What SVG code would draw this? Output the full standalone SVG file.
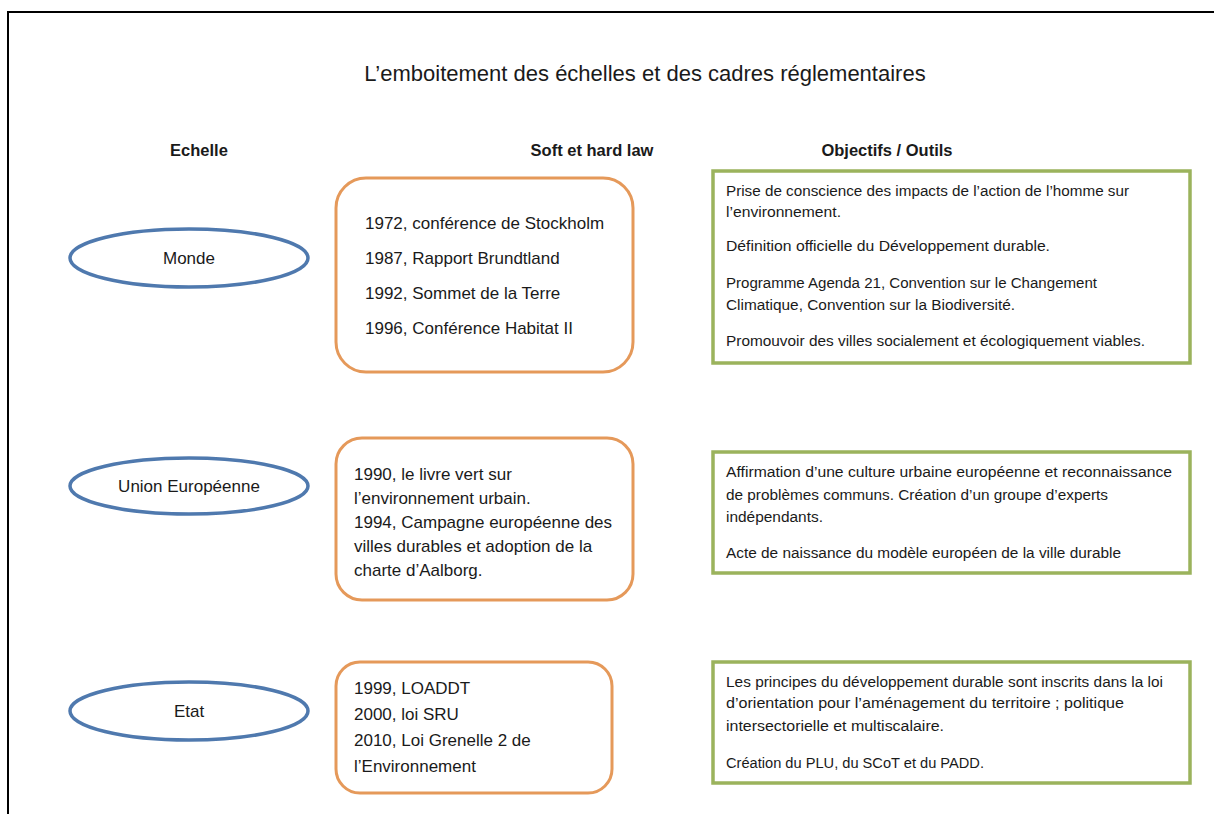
<svg xmlns="http://www.w3.org/2000/svg" width="1214" height="814" viewBox="0 0 1214 814">
<style>
.t{font-family:"Liberation Sans",Arial,sans-serif;fill:#1a1a1a}
.title{font-size:22px}
.hdr{font-size:16.5px;font-weight:bold}
.ell{fill:#fff;stroke:#4f79ae;stroke-width:3.5}
.ob{fill:#fff;stroke:#e5995a;stroke-width:3}
.gb{fill:#fff;stroke:#9bb35c;stroke-width:3.5}
.lbl{font-size:17px}
.law{font-size:17px}
.obj{font-size:14px}
</style>
<rect x="0" y="0" width="1214" height="814" fill="#fff"/>
<path d="M8,814 V12 H1214" fill="none" stroke="#000" stroke-width="2"/>
<text class="t title" x="645" y="81" text-anchor="middle">L’emboitement des échelles et des cadres réglementaires</text>
<g id="headers">
<text class="t hdr" x="199" y="156" text-anchor="middle">Echelle</text>
<text class="t hdr" x="592" y="156" text-anchor="middle">Soft et hard law</text>
<text class="t hdr" x="887" y="156" text-anchor="middle">Objectifs / Outils</text>
</g>
<g id="connectors"></g>
<g id="monde">
<ellipse class="ell" cx="189" cy="258" rx="119" ry="29"/>
<text class="t lbl" x="189" y="264" text-anchor="middle">Monde</text>
</g>
<g id="ue">
<ellipse class="ell" cx="189" cy="486" rx="119" ry="28"/>
<text class="t lbl" x="189" y="492" text-anchor="middle">Union Européenne</text>
</g>
<g id="etat">
<ellipse class="ell" cx="189" cy="711" rx="119" ry="29"/>
<text class="t lbl" x="189" y="717" text-anchor="middle">Etat</text>
</g>
<g id="law-monde">
<rect class="ob" x="336" y="178" width="297" height="194" rx="30"/>
<text class="t law" x="365" y="229">1972,  conférence de Stockholm</text>
<text class="t law" x="365" y="264">1987,  Rapport Brundtland</text>
<text class="t law" x="365" y="299">1992,  Sommet de la Terre</text>
<text class="t law" x="365" y="334">1996,  Conférence Habitat II</text>
</g>
<g id="law-ue">
<rect class="ob" x="336" y="438" width="297" height="162" rx="26"/>
<text class="t law" x="354" y="480">1990,  le livre vert sur</text>
<text class="t law" x="354" y="504">l’environnement urbain.</text>
<text class="t law" x="354" y="528">1994,  Campagne européenne des</text>
<text class="t law" x="354" y="552">villes durables et adoption de la</text>
<text class="t law" x="354" y="576">charte d’Aalborg.</text>
</g>
<g id="law-etat">
<rect class="ob" x="336" y="662" width="276" height="131" rx="24"/>
<text class="t law" x="354" y="694">1999,  LOADDT</text>
<text class="t law" x="354" y="720">2000,  loi SRU</text>
<text class="t law" x="354" y="746">2010,  Loi Grenelle 2 de</text>
<text class="t law" x="354" y="772">l’Environnement</text>
</g>
<g id="obj-monde">
<rect class="gb" x="713" y="171" width="477" height="192"/>
<text class="t obj" x="726" y="196" textLength="403" lengthAdjust="spacingAndGlyphs">Prise de conscience des impacts de l’action de l’homme sur</text>
<text class="t obj" x="726" y="217" textLength="115" lengthAdjust="spacingAndGlyphs">l’environnement.</text>
<text class="t obj" x="726" y="251" textLength="324" lengthAdjust="spacingAndGlyphs">Définition officielle du Développement  durable.</text>
<text class="t obj" x="726" y="288" textLength="371" lengthAdjust="spacingAndGlyphs">Programme  Agenda  21, Convention sur le Changement</text>
<text class="t obj" x="726" y="310" textLength="289" lengthAdjust="spacingAndGlyphs">Climatique, Convention sur la Biodiversité.</text>
<text class="t obj" x="726" y="346" textLength="419" lengthAdjust="spacingAndGlyphs">Promouvoir des villes socialement et écologiquement viables.</text>
</g>
<g id="obj-ue">
<rect class="gb" x="713" y="452" width="477" height="121"/>
<text class="t obj" x="726" y="477" textLength="446" lengthAdjust="spacingAndGlyphs">Affirmation d’une culture urbaine européenne  et reconnaissance</text>
<text class="t obj" x="726" y="500" textLength="382" lengthAdjust="spacingAndGlyphs">de  problèmes communs.  Création d’un  groupe d’experts</text>
<text class="t obj" x="726" y="522" textLength="97" lengthAdjust="spacingAndGlyphs">indépendants.</text>
<text class="t obj" x="726" y="558" textLength="395" lengthAdjust="spacingAndGlyphs">Acte de  naissance du modèle européen  de  la ville durable</text>
</g>
<g id="obj-etat">
<rect class="gb" x="713" y="662" width="477" height="121"/>
<text class="t obj" x="726" y="687" textLength="437" lengthAdjust="spacingAndGlyphs">Les principes du développement  durable sont inscrits dans la loi</text>
<text class="t obj" x="726" y="708" textLength="398" lengthAdjust="spacingAndGlyphs">d’orientation pour l’aménagement  du territoire ; politique</text>
<text class="t obj" x="726" y="731" textLength="218" lengthAdjust="spacingAndGlyphs">intersectorielle et multiscalaire.</text>
<text class="t obj" x="726" y="768" textLength="258" lengthAdjust="spacingAndGlyphs">Création du PLU,  du SCoT et  du PADD.</text>
</g>
</svg>
